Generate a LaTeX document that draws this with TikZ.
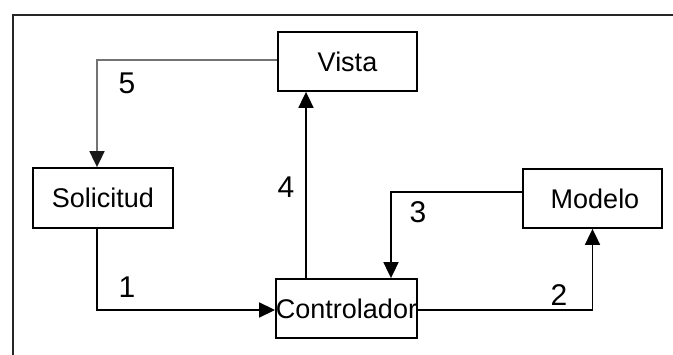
\documentclass[tikz,border=0pt]{standalone}
\usepackage{fontspec}
\setmainfont{Liberation Sans}
\usetikzlibrary{arrows.meta}
\begin{document}
\begin{tikzpicture}[x=1pt,y=-1pt,
  box/.style={draw=black,line width=1.8pt,rectangle,inner sep=0pt,fill=white,
    font=\fontsize{27}{32}\selectfont},
  conn/.style={line width=1.8pt,-{Triangle[length=16pt,width=15pt]}},
  num/.style={font=\fontsize{30}{34}\selectfont,inner sep=0pt}]
\useasboundingbox (0,0) rectangle (673,355);
\fill[white] (0,0) rectangle (673,355);
% frame
\draw[line width=1.8pt,black!85] (13,356) -- (13,15) -- (674,15);
% nodes
\node[box,minimum width=139pt,minimum height=59pt] (vista) at (347.5,61.5) {Vista\hspace{22pt}};
\node[box,minimum width=140pt,minimum height=60pt] (sol) at (103,198) {Solicitud};
\node[box,minimum width=139pt,minimum height=59pt] (modelo) at (592.5,198.5) {\hspace{5pt}Modelo};
\node[box,minimum width=141pt,minimum height=59pt] (ctrl) at (346.5,308.5) {Controlador};
% connectors
\draw[conn] ([xshift=-6pt]sol.south) |- ([yshift=-1.5pt]ctrl.west);
\draw[conn] ([yshift=-1.5pt]ctrl.east) -| (modelo.south);
\draw[conn] ([yshift=6.5pt]modelo.west) -| ([xshift=44.5pt]ctrl.north);
\coordinate (c4) at ([xshift=-40.5pt]ctrl.north);
\draw[conn] (c4) -- (c4 |- vista.south);
\draw[line width=1.8pt,draw=black!55,-{Triangle[length=16pt,width=15pt,color=black!90,fill=black!90]}] ([yshift=1.5pt]vista.west) -| ([xshift=-6pt]sol.north);
% labels
\node[num] (l5) at (127,83) {5};
\node[num] (l4) at (286,187) {4};
\node[num] (l1) at (127,287) {1};
\node[num] (l3) at (418,212) {3};
\node[num] (l2) at (559,295) {2};
\end{tikzpicture}
\end{document}
